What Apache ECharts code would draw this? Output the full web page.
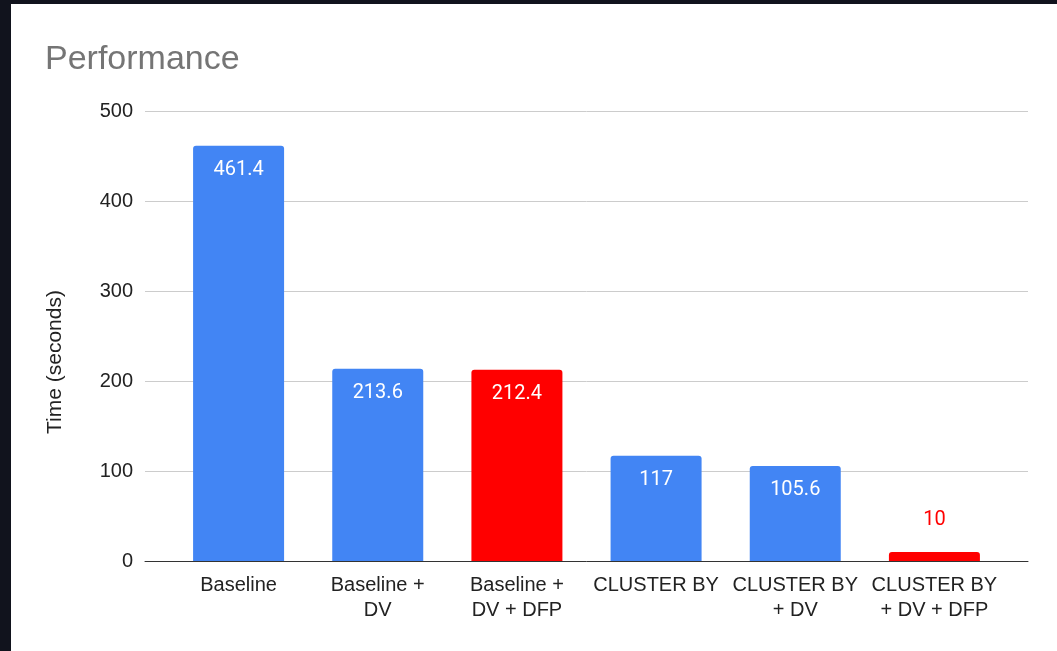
<!DOCTYPE html>
<html>
<head>
<meta charset="utf-8">
<script src="https://cdn.jsdelivr.net/npm/echarts@6/dist/echarts.min.js"></script>
<style>
  html, body { margin: 0; padding: 0; background: #ffffff; }
  #chart { width: 1057px; height: 651px; }
</style>
</head>
<body>
<div id="chart"></div>
<script>
// Query run times for each configuration
const categories = ['Baseline', 'Baseline +\nDV', 'Baseline +\nDV + DFP', 'CLUSTER BY', 'CLUSTER BY\n+ DV', 'CLUSTER BY\n+ DV + DFP'];
const times = [461.4, 213.6, 212.4, 117, 105.6, 10];
const highlighted = [false, false, true, false, false, true];
const yTicks = [0, 100, 200, 300, 400, 500];

const BLUE = '#4285f4';
const RED = '#ff0000';
const AXIS_FONT = '"Liberation Sans", Arial, sans-serif';
const LABEL_FONT = 'Roboto, "Noto Sans", sans-serif';

const seriesData = times.map((v, i) => {
  const red = highlighted[i];
  const small = v < 40;
  return {
    value: v,
    itemStyle: { color: red ? RED : BLUE },
    label: small
      ? { position: 'top', distance: 22, color: RED }
      : { position: 'insideTop', distance: 14, color: '#ffffff' }
  };
});

const chart = echarts.init(document.getElementById('chart'), null, { renderer: 'canvas' });
chart.setOption({
  backgroundColor: '#ffffff',
  animation: false,
  title: {
    text: 'Performance',
    left: 40,
    top: 38,
    textStyle: { fontFamily: AXIS_FONT, fontSize: 34, fontWeight: 'normal', color: '#757575' }
  },
  graphic: [
    { type: 'rect', left: 0, top: 0, shape: { width: 1057, height: 4 }, style: { fill: '#11131d' }, z: 100 },
    { type: 'rect', left: 0, top: 0, shape: { width: 11, height: 651 }, style: { fill: '#11131d' }, z: 100 }
  ],
  grid: [
    // full-width plot area: gridlines, value labels and baseline
    { left: 145, right: 29, top: 111, bottom: 90 },
    // inset area where the category bands sit
    { left: 169, right: 53, top: 111, bottom: 90 }
  ],
  xAxis: [
    {
      gridIndex: 0, type: 'category', data: [''],
      axisLine: { show: true, lineStyle: { color: '#333333', width: 1 } },
      axisTick: { show: false }, axisLabel: { show: false }, splitLine: { show: false }
    },
    {
      gridIndex: 1, type: 'category', data: categories,
      axisLine: { show: false }, axisTick: { show: false },
      axisLabel: {
        interval: 0, margin: 12, color: '#222222',
        fontFamily: AXIS_FONT, fontSize: 20, lineHeight: 25
      }
    }
  ],
  yAxis: [
    {
      gridIndex: 0, type: 'value', min: yTicks[0], max: yTicks[yTicks.length - 1], interval: 100,
      name: 'Time (seconds)', nameLocation: 'middle', nameGap: 79, nameRotate: 90,
      nameTextStyle: { fontFamily: AXIS_FONT, fontSize: 21, color: '#222222', padding: [0, 52, 0, 0] },
      axisLine: { show: false }, axisTick: { show: false },
      axisLabel: { margin: 12, color: '#222222', fontFamily: AXIS_FONT, fontSize: 20 },
      splitLine: { lineStyle: { color: '#cccccc', width: 1 } }
    },
    {
      gridIndex: 1, type: 'value', min: yTicks[0], max: yTicks[yTicks.length - 1], interval: 100,
      axisLine: { show: false }, axisTick: { show: false },
      axisLabel: { show: false }, splitLine: { show: false }
    }
  ],
  series: [{
    type: 'bar',
    xAxisIndex: 1, yAxisIndex: 1,
    barWidth: 91,
    itemStyle: { borderRadius: [3, 3, 0, 0] },
    label: {
      show: true,
      fontFamily: LABEL_FONT, fontSize: 20
    },
    data: seriesData,
    z: 3
  }]
});
</script>
</body>
</html>
